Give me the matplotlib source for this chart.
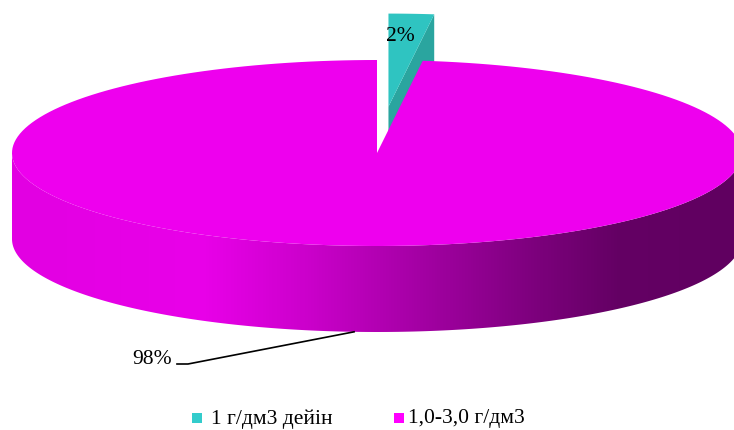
"""Pseudo-3D exploded pie: share of samples by mineralisation range."""

import numpy as np
import matplotlib
matplotlib.use("Agg")
import matplotlib.pyplot as plt
from matplotlib.colors import LinearSegmentedColormap
from matplotlib.patches import Polygon, Rectangle

plt.rcParams["font.family"] = ["Liberation Serif", "DejaVu Serif"]

# data
labels = ["1 г/дм3 дейін", "1,0-3,0 г/дм3"]
shares = [2, 98]
pct_labels = ["2%", "98%"]
explode = [0.5, 0.0]

# style
legend_colors = ["#33CCCC", "#FF00FF"]
top_colors = ["#2FC4C1", "#EE00EE"]
side_colors = ["#2AA59F", None]
W, H = 734, 430
CX, CY, A, B, DEPTH = 377, 153, 365, 93, 86
FS = 15.5


def pt(phi_deg, r=1.0, off=(0.0, 0.0), dz=0.0):
    """Point on the ellipse; phi measured clockwise from 12 o'clock."""
    p = np.radians(phi_deg)
    return (CX + off[0] + r * A * np.sin(p), CY + off[1] - r * B * np.cos(p) + dz)


def arc(phi0, phi1, off=(0.0, 0.0), dz=0.0, n=200):
    return [pt(p, 1.0, off, dz) for p in np.linspace(phi0, phi1, n)]


fig = plt.figure(figsize=(W / 100, H / 100), dpi=100)
ax = fig.add_axes([0, 0, 1, 1])

bounds = np.concatenate([[0], np.cumsum(shares)]) / sum(shares) * 360.0

# exploded small slice (drawn first, the big slice covers it)
for i in range(len(shares)):
    if explode[i] == 0:
        continue
    a0, a1 = bounds[i], bounds[i + 1]
    mid = np.radians((a0 + a1) / 2)
    off = (explode[i] * A * np.sin(mid), -explode[i] * B * np.cos(mid))
    c_top = (CX + off[0], CY + off[1])
    # radial face on the closing edge
    face = [c_top, pt(a1, 1, off), pt(a1, 1, off, DEPTH), (c_top[0], c_top[1] + DEPTH)]
    ax.add_patch(Polygon(face, closed=True, fc=side_colors[i], ec="none", zorder=1))
    ax.add_patch(Polygon([c_top] + arc(a0, a1, off), closed=True,
                         fc=top_colors[i], ec="none", zorder=2))
    lx, ly = pt((a0 + a1) / 2, 0.75, off)
    ax.text(lx - 5, ly, pct_labels[i], fontsize=FS, ha="center", va="center", zorder=6)

# big slice: front wall with horizontal shading, then top face
big = 1
a0, a1 = bounds[big], bounds[big + 1]
wall = arc(90, 270) + arc(270, 90, dz=DEPTH)
wall_patch = Polygon(wall, closed=True, fc="none", ec="none", zorder=3)
ax.add_patch(wall_patch)
stops = [(0.0, "#E200E2"), (0.26, "#E900E9"), (0.40, "#CC00CC"),
         (0.56, "#A400A4"), (0.72, "#7C007C"), (0.83, "#640064"), (1.0, "#600060")]
shade = LinearSegmentedColormap.from_list("wall", stops)
grad = np.linspace(0, 1, 512)[None, :]
img = ax.imshow(grad, cmap=shade, extent=(CX - A, CX + A, CY + B + DEPTH, CY - B),
                aspect="auto", interpolation="bilinear", zorder=3)
img.set_clip_path(wall_patch)

ax.add_patch(Polygon([(CX, CY)] + arc(a0, a1), closed=True,
                     fc=top_colors[big], ec="none", zorder=4))

# leader + label for big slice
mid = (a0 + a1) / 2
anchor = pt(mid, 1.0, dz=DEPTH)
ax.plot([anchor[0], 188, 177], [anchor[1], 364, 364], color="black", lw=1.2, zorder=6)
ax.text(172, 359, pct_labels[big], fontsize=FS, ha="right", va="center", zorder=6)

# legend
for lab, col, x, pad in zip(labels, legend_colors, [192, 394], [19, 14]):
    ax.add_patch(Rectangle((x, 413), 10, 10, fc=col, ec="none", zorder=6))
    ax.text(x + pad, 419, lab, fontsize=FS, ha="left", va="center", zorder=6)

ax.set_xlim(0, W)
ax.set_ylim(H, 0)
ax.axis("off")
fig.savefig("out.png", dpi=100)
